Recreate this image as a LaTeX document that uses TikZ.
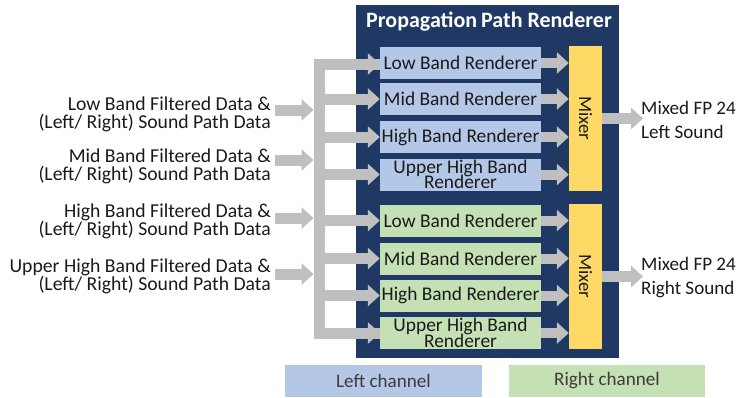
\documentclass[tikz,border=0pt]{standalone}
\usepackage{fontspec}
\setmainfont{Carlito}
\usetikzlibrary{arrows.meta,positioning}
\definecolor{navy}{HTML}{1F3864}
\definecolor{lblue}{HTML}{B4C7E7}
\definecolor{lgreen}{HTML}{C5E0B4}
\definecolor{mixy}{HTML}{FFD966}
\definecolor{agray}{HTML}{BFBFBF}
\definecolor{txt}{HTML}{1A1A1A}
\newcommand\mytightlines{\fontsize{19.4}{15.5}\selectfont\lineskiplimit=-30pt\relax\lineskip=0pt\relax}
\tikzset{
  base/.style={font=\fontsize{19.4}{18}\selectfont, text=txt, inner sep=0pt},
  rend/.style={base, minimum width=161pt, minimum height=32pt, align=center},
  lrend/.style={rend, fill=lblue},
  rrend/.style={rend, fill=lgreen},
  tight/.style={font=\mytightlines},
  mixer/.style={base, fill=mixy, minimum width=33pt, minimum height=145pt, font=\fontsize{18.8}{18}\selectfont},
  inlabel/.style={base, align=right, anchor=east, font=\fontsize{19.7}{18}\selectfont},
  outlabel/.style={base, align=left, anchor=west, font=\fontsize{19.1}{24}\selectfont},
  legend/.style={base, minimum height=32pt, text=txt!85, font=\fontsize{19.1}{18}\selectfont},
  garrow/.style={draw=agray, line width=11pt, -{Triangle[width=21pt,length=12pt]}},
  gline/.style={draw=agray, line width=11pt, line join=miter},
}
\begin{document}
\begin{tikzpicture}[x=1pt,y=-1pt]
\useasboundingbox (0,0) rectangle (740,397);
% frame
\node[fill=navy, minimum width=263pt, minimum height=353pt, anchor=north west, inner sep=0pt] (frame) at (356,5) {};
\node[base, text=white, font=\bfseries\fontsize{22}{20}\selectfont] (title) at (489,22) {Propagation\hspace{-1pt} Path Renderer};
% renderers
\node[lrend] (l1) at (460.5,63) {Low Band Renderer};
\node[lrend] (l2) at (460.5,99) {Mid Band Renderer};
\node[lrend] (l3) at (460.5,137) {High Band Renderer};
\node[lrend, tight] (l4) at (460.5,174.5) {Upper High Band\\Renderer};
\node[rrend] (r1) at (460.5,220.5) {Low Band Renderer};
\node[rrend] (r2) at (460.5,258.5) {Mid Band Renderer};
\node[rrend] (r3) at (460.5,295.5) {High Band Renderer};
\node[rrend, tight] (r4) at (460.5,333) {Upper High Band\\Renderer};
% mixers
\node[mixer] (m1) at (585.5,118.5) {\rotatebox{-90}{Mixer}};
\node[mixer] (m2) at (585.5,276.5) {\rotatebox{-90}{Mixer}};
% renderer -> mixer
\foreach \n in {l1,l2,l3,l4}{\draw[garrow,line width=10pt] (\n.east) -- (\n.east -| m1.west);}
\foreach \n in {r1,r2,r3,r4}{\draw[garrow,line width=10pt] (\n.east) -- (\n.east -| m2.west);}
% outputs
\coordinate (o1) at (643,118.5);
\coordinate (o2) at (643,276.5);
\draw[garrow] (m1.east) -- (o1);
\draw[garrow] (m2.east) -- (o2);
\node[outlabel] (ol1) at (641,120) {Mixed FP 24\\Left Sound};
\node[outlabel] (ol2) at (641,277.5) {Mixed FP 24\\Right Sound};
% bus
\coordinate (bt) at (319,64);
\coordinate (bb) at (319,333);
\draw[gline] (bb) -- (bt) -- (bt -| l1.west);
\draw[garrow] (bt) -- (bt -| l1.west);
\draw[gline] (bt) -- (bb) -- (r4.west);
\draw[garrow] (bb) -- (r4.west);
\foreach \n in {l2,l3,l4,r1,r2,r3}{\draw[garrow] (\n.west -| bb) -- (\n.west);}
% inputs
\coordinate (bx) at (313.5,0);
\node[inlabel] (i1) at (271,114) {Low Band Filtered Data \&\\(Left/ Right) Sound Path Data};
\node[inlabel] (i2) at (271,166) {Mid Band Filtered Data \&\\(Left/ Right) Sound Path Data};
\node[inlabel] (i3) at (271,221) {High Band Filtered Data \&\\(Left/ Right) Sound Path Data};
\node[inlabel] (i4) at (271,276) {Upper High Band Filtered Data \&\\(Left/ Right) Sound Path Data};
\draw[garrow] ([xshift=4pt,yshift=4pt]i1.east) -- ([yshift=4pt]i1.east -| bx);
\draw[garrow] ([xshift=4pt,yshift=6pt]i2.east) -- ([yshift=6pt]i2.east -| bx);
\draw[garrow] ([xshift=4pt,yshift=3pt]i3.east) -- ([yshift=3pt]i3.east -| bx);
\draw[garrow] ([xshift=4pt,yshift=2pt]i4.east) -- ([yshift=2pt]i4.east -| bx);
% legend
\node[legend, fill=lblue, minimum width=197pt] (lg1) at (383.5,381) {Left channel};
\node[legend, fill=lgreen, minimum width=196pt] (lg2) at (607,381) {Right channel};
\end{tikzpicture}
\end{document}
